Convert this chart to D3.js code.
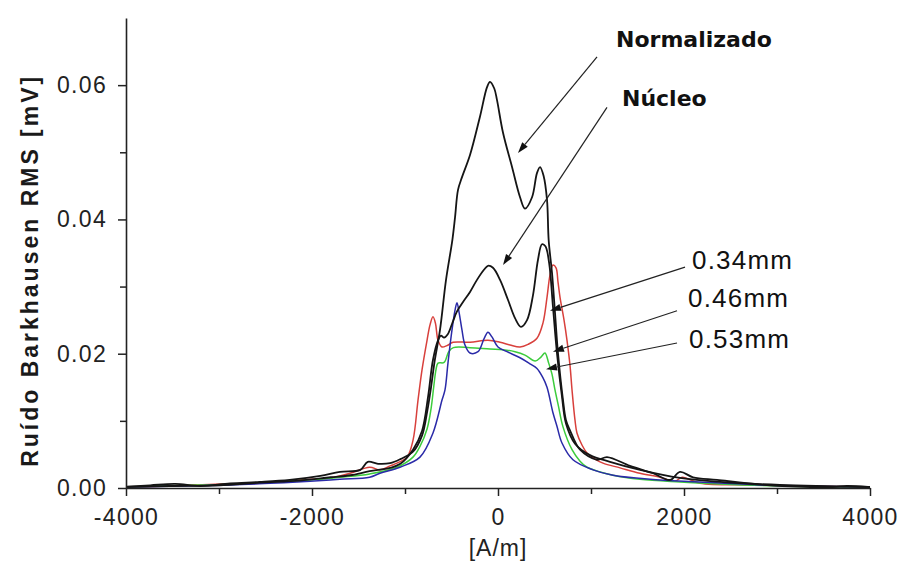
<!DOCTYPE html>
<html><head><meta charset="utf-8">
<script src="https://cdn.jsdelivr.net/npm/d3@7"></script>
<style>body{margin:0;background:#fff;} svg{display:block;}</style>
</head><body>
<svg id="c" width="900" height="563"></svg>
<script>
// ---- data ----
const xTicks = [-4000, -2000, 0, 2000, 4000];
const xMinor = [-3000, -1000, 1000, 3000];
const yTicks = [0, 0.02, 0.04, 0.06];
const yMinor = [0.01, 0.03, 0.05];

const normalizado = [
[-3990,0.0002],[-3740,0.0004],[-3470,0.0006],[-3200,0.0003],[-2880,0.0007],[-2560,0.0009],[-2240,0.0012],[-1910,0.0018],[-1700,0.0024],[-1480,0.0027],[-1400,0.0039],[-1290,0.0036],[-1160,0.0037],[-1050,0.0043],[-914,0.0054],[-817,0.0078],[-760,0.0115],[-720,0.015],[-680,0.019],[-624,0.0235],[-559,0.031],[-490,0.037],[-462,0.0403],[-430,0.0444],[-387,0.0463],[-301,0.0496],[-194,0.0553],[-118,0.0597],[-86,0.0605],[-40,0.0595],[-11,0.0578],[54,0.0529],[151,0.0478],[237,0.0433],[290,0.0416],[366,0.0433],[419,0.0469],[452,0.0478],[490,0.0465],[527,0.0429],[545,0.0369],[581,0.032],[613,0.0261],[645,0.0201],[699,0.0131],[731,0.0101],[774,0.0086],[882,0.0057],[1065,0.0042],[1172,0.0046],[1419,0.0033],[1667,0.0022],[1850,0.0012],[1957,0.0024],[2097,0.0016],[2355,0.0012],[2890,0.00045],[3600,0.00015],[3750,0.0003],[3970,0.00015]
];
const nucleo = [
[-3990,0.00015],[-3530,0.0003],[-3000,0.0004],[-2560,0.0008],[-2130,0.0011],[-1800,0.0016],[-1590,0.0019],[-1380,0.0025],[-1160,0.003],[-1050,0.0036],[-914,0.0057],[-817,0.0085],[-753,0.0135],[-699,0.0191],[-645,0.022],[-613,0.0227],[-580,0.0224],[-540,0.0229],[-490,0.0246],[-441,0.0263],[-376,0.0277],[-301,0.0292],[-226,0.031],[-151,0.0325],[-108,0.0331],[-54,0.0328],[22,0.031],[108,0.028],[183,0.0253],[247,0.024],[312,0.025],[376,0.0287],[430,0.034],[473,0.0363],[510,0.036],[550,0.0335],[591,0.027],[634,0.0201],[688,0.0136],[731,0.0096],[828,0.0066],[989,0.0049],[1204,0.0039],[1527,0.0027],[1957,0.0015],[2387,0.0009],[3032,0.00045],[4000,0.00015]
];
const mm034 = [
[-3990,0.00015],[-3530,0.0003],[-2990,0.0006],[-2560,0.0007],[-2130,0.0012],[-1810,0.0015],[-1590,0.0022],[-1380,0.0031],[-1269,0.0027],[-1160,0.0033],[-1086,0.0037],[-978,0.0046],[-914,0.0071],[-860,0.0131],[-817,0.0176],[-763,0.022],[-731,0.0243],[-699,0.0255],[-672,0.0245],[-645,0.022],[-602,0.021],[-550,0.0212],[-484,0.0217],[-301,0.0217],[-108,0.022],[22,0.0217],[129,0.0213],[237,0.021],[323,0.0214],[419,0.0223],[484,0.0246],[527,0.0284],[559,0.0317],[591,0.0332],[624,0.0328],[645,0.0307],[667,0.0284],[710,0.025],[742,0.022],[774,0.0183],[796,0.0146],[828,0.0101],[849,0.0082],[903,0.0064],[957,0.0052],[1043,0.0043],[1129,0.0037],[1312,0.003],[1527,0.0022],[1742,0.0016],[1903,0.001],[1980,0.0016],[2172,0.0007],[2710,0.00045],[3247,0.0003],[4000,0.00015]
];
const mm046 = [
[-3990,0.00015],[-3200,0.00045],[-2770,0.0006],[-2450,0.0009],[-2020,0.0012],[-1700,0.0016],[-1380,0.0021],[-1086,0.0031],[-914,0.0046],[-839,0.0062],[-763,0.0088],[-720,0.0118],[-690,0.0152],[-667,0.0176],[-645,0.0186],[-580,0.0187],[-530,0.0203],[-480,0.0209],[-301,0.0209],[-86,0.0207],[54,0.0206],[183,0.0203],[290,0.0198],[400,0.0189],[462,0.0195],[505,0.0201],[545,0.0186],[580,0.017],[610,0.0148],[650,0.0122],[699,0.0091],[796,0.0057],[882,0.004],[957,0.0031],[1097,0.0024],[1237,0.0019],[1527,0.0013],[1957,0.0009],[2387,0.0006],[3032,0.0003],[4000,0.00015]
];
const mm053 = [
[-3990,0.00015],[-3420,0.0003],[-2880,0.00045],[-2450,0.0007],[-2020,0.001],[-1700,0.0013],[-1380,0.0016],[-1269,0.0022],[-1054,0.0031],[-839,0.0046],[-699,0.0082],[-602,0.0131],[-570,0.0146],[-538,0.0186],[-495,0.0235],[-462,0.0265],[-441,0.0276],[-419,0.0262],[-387,0.0235],[-355,0.0213],[-301,0.0201],[-215,0.0203],[-151,0.0222],[-108,0.0232],[-65,0.0225],[0,0.021],[97,0.0203],[237,0.0194],[344,0.0185],[419,0.0178],[480,0.0165],[527,0.015],[591,0.0112],[634,0.0092],[688,0.0067],[806,0.0042],[1022,0.0027],[1237,0.0019],[1634,0.0013],[2172,0.0009],[2817,0.00045],[3247,0.0003],[4000,0.00015]
];

const seriesList = [
  {name:"0.34mm", values:mm034, color:"#d8403c", width:1.5},
  {name:"0.46mm", values:mm046, color:"#3ccc3c", width:1.5},
  {name:"0.53mm", values:mm053, color:"#2a2aa8", width:1.5},
  {name:"Núcleo", values:nucleo, color:"#151515", width:1.8},
  {name:"Normalizado", values:normalizado, color:"#151515", width:1.8}
];

// annotations: text anchor and arrow (start -> tip) in data units
const annotations = [
  {label:"Normalizado", bold:true,  tx:1269, ty:0.0657, sx:1065, sy:0.0642, ex:215, ey:0.0499},
  {label:"Núcleo",      bold:true,  tx:1333, ty:0.0569, sx:1172, sy:0.0567, ex:54,  ey:0.0332},
  {label:"0.34mm",      bold:false, tx:2086, ty:0.0326, sx:2011, sy:0.0329, ex:559, ey:0.0264},
  {label:"0.46mm",      bold:false, tx:2043, ty:0.0270, sx:1925, sy:0.0264, ex:591, ey:0.0203},
  {label:"0.53mm",      bold:false, tx:2054, ty:0.0209, sx:1925, sy:0.0216, ex:516, ey:0.0177}
];

// ---- layout ----
const svg = d3.select("#c");
const x = d3.scaleLinear().domain([-4000, 4000]).range([126, 870]);
const y = d3.scaleLinear().domain([0, 0.07]).range([488, 18]);
const font = "'Liberation Sans', Arial, sans-serif";

// curves
const line = d3.line().x(d => x(d[0])).y(d => y(d[1])).curve(d3.curveCatmullRom.alpha(0.5));
svg.append("g").selectAll("path").data(seriesList).join("path")
  .attr("d", d => line(d.values))
  .attr("fill", "none")
  .attr("stroke", d => d.color)
  .attr("stroke-width", d => d.width)
  .attr("stroke-linejoin", "round");

// axes
const axisColor = "#222";
svg.append("g").attr("transform", `translate(0,${y(0)})`)
  .call(d3.axisBottom(x).tickValues(xTicks).tickSize(8).tickSizeOuter(0).tickPadding(13).tickFormat(d => String(d)));
svg.append("g").attr("transform", `translate(0,${y(0)})`)
  .call(d3.axisBottom(x).tickValues(xMinor).tickSize(6).tickFormat(""))
  .call(g => g.select(".domain").remove());
svg.append("g").attr("transform", `translate(${x(-4000)},0)`)
  .call(d3.axisLeft(y).tickValues(yTicks).tickSize(8).tickSizeOuter(0).tickPadding(11).tickFormat(d3.format(".2f")));
svg.append("g").attr("transform", `translate(${x(-4000)},0)`)
  .call(d3.axisLeft(y).tickValues(yMinor).tickSize(6).tickFormat(""))
  .call(g => g.select(".domain").remove());

svg.selectAll(".domain").attr("stroke", axisColor).attr("stroke-width", 1.6);
svg.selectAll(".tick line").attr("stroke", axisColor).attr("stroke-width", 1.5);
svg.selectAll(".tick text").attr("font-family", font).attr("font-size", 23)
  .attr("fill", "#222").style("letter-spacing", "1.3px");

// axis titles
svg.append("text").attr("x", x(0)).attr("y", 556).attr("text-anchor", "middle")
  .attr("font-family", font).attr("font-size", 23).attr("fill", "#222")
  .style("letter-spacing", "1px").text("[A/m]");
svg.append("text").attr("transform", `translate(38,${y(0.0322)}) rotate(-90)`)
  .attr("text-anchor", "middle").attr("font-family", font).attr("font-weight", "bold")
  .attr("font-size", 23).attr("fill", "#1a1a1a")
  .attr("textLength", 390).attr("lengthAdjust", "spacing")
  .text("Ruído Barkhausen RMS  [mV]");

// annotations
const ag = svg.append("g");
annotations.forEach(a => {
  const x1 = x(a.sx), y1 = y(a.sy), x2 = x(a.ex), y2 = y(a.ey);
  const ang = Math.atan2(y2 - y1, x2 - x1);
  const L = 11, W = 3.6;
  const bx = x2 - L * Math.cos(ang), by = y2 - L * Math.sin(ang);
  ag.append("line").attr("x1", x1).attr("y1", y1).attr("x2", bx).attr("y2", by)
    .attr("stroke", "#222").attr("stroke-width", 1.2);
  const p = [[x2, y2],
    [bx + W * Math.sin(ang), by - W * Math.cos(ang)],
    [bx - W * Math.sin(ang), by + W * Math.cos(ang)]];
  ag.append("polygon").attr("points", p.map(q => q.join(",")).join(" ")).attr("fill", "#111");
  const t = ag.append("text").attr("x", x(a.tx)).attr("y", y(a.ty)).attr("fill", "#111").text(a.label);
  if (a.bold) {
    t.attr("font-family", "'DejaVu Sans', sans-serif").attr("font-weight", "bold").attr("font-size", 22);
  } else {
    t.attr("font-family", font).attr("font-size", 26).style("letter-spacing", "1.2px");
  }
});
</script>
</body></html>
